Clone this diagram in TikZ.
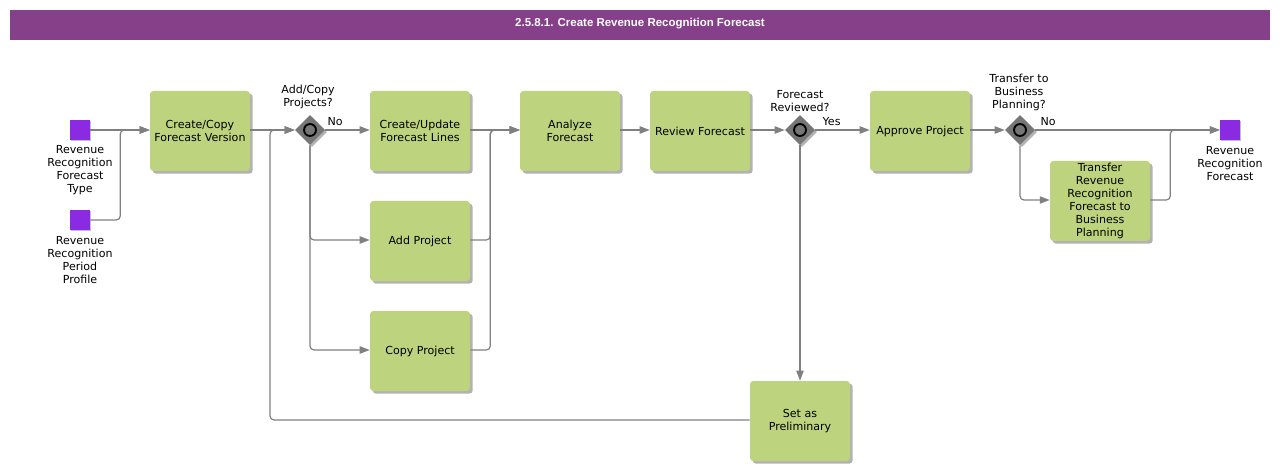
\documentclass[tikz,border=0pt]{standalone}
\usepackage{fontspec}
\setmainfont{DejaVu Sans}
\newfontfamily\titlefont{Liberation Sans}
\usetikzlibrary{arrows.meta,shapes.geometric,shadows}
\definecolor{purpbar}{RGB}{134,64,138}
\definecolor{taskgreen}{RGB}{189,211,125}
\definecolor{dataviolet}{RGB}{138,43,226}
\definecolor{linegray}{RGB}{128,128,128}
\definecolor{gwgray}{RGB}{118,118,118}
\begin{document}
\begin{tikzpicture}[x=0.75pt,y=-0.75pt,
  every node/.style={font=\fontsize{8.3}{9.75}\selectfont},
  task/.style={rectangle, rounded corners=2.5pt, fill=taskgreen, minimum width=75pt, minimum height=60pt, align=center, inner sep=1pt,
    drop shadow={shadow xshift=2pt, shadow yshift=-2pt, fill=black, opacity=0.3}},
  gw/.style={diamond, fill=gwgray, minimum width=22.5pt, minimum height=22.5pt, inner sep=0pt,
    drop shadow={shadow xshift=1.5pt, shadow yshift=-1.5pt, fill=black, opacity=0.3}},
  gwring/.style={circle, draw=black, line width=1.4pt, fill=gwgray, minimum size=9pt, inner sep=0pt},
  dataobj/.style={rectangle, fill=dataviolet, minimum size=15pt, inner sep=0pt,
    drop shadow={shadow xshift=1pt, shadow yshift=-1pt, fill=black, opacity=0.25}},
  lbl/.style={align=center, inner sep=0pt},
  conn/.style={draw=linegray, line width=0.9pt, rounded corners=3pt, -{Triangle[length=7.5pt,width=5.5pt]}}
]
\useasboundingbox (0,0) rectangle (1280,470);
% title bar
\fill[purpbar] (10,10) rectangle (1270,40);
\node[text=white, font=\titlefont\bfseries\fontsize{8.6}{10}\selectfont] (title) at (640,24) {2.5.8.1. Create Revenue Recognition Forecast};

% data objects
\node[dataobj] (d1) at (80,130) {};
\node[lbl] (d1l) at (80,170) {Revenue\\Recognition\\Forecast\\Type};
\node[dataobj] (d2) at (80,220) {};
\node[lbl] (d2l) at (80,260) {Revenue\\Recognition\\Period\\Profile};
\node[dataobj] (endd) at (1230,130) {};
\node[lbl] (endl) at (1230,163.5) {Revenue\\Recognition\\Forecast};

% tasks
\node[task] (cc) at (200,131) {Create/Copy\\Forecast Version};
\node[task] (cu) at (420,131) {Create/Update\\Forecast Lines};
\node[task] (ap) at (420,241) {Add Project};
\node[task] (cp) at (420,351) {Copy Project};
\node[task] (an) at (570,131) {Analyze\\Forecast};
\node[task] (rf) at (700,131) {Review Forecast};
\node[task] (apr) at (920,131) {Approve Project};
\node[task] (tr) at (1100,201) {Transfer\\Revenue\\Recognition\\Forecast to\\Business\\Planning};
\node[task] (sp) at (800,421) {Set as\\Preliminary};

% gateways
\node[gw] (g1) at (310,130) {};
\node[gwring] (g1r) at (g1) {};
\node[lbl] (g1l) at (308,97) {Add/Copy\\Projects?};
\node[gw] (g2) at (800,130) {};
\node[gwring] (g2r) at (g2) {};
\node[lbl] (g2l) at (800,101.5) {Forecast\\Reviewed?};
\node[gw] (g3) at (1020,130) {};
\node[gwring] (g3r) at (g3) {};
\node[lbl] (g3l) at (1019,92) {Transfer to\\Business\\Planning?};

% connectors
\draw[conn] (d1.east) -- (d1.east -| cc.west);
\draw[conn] (d2.east) -- ++(30,0) |- (d1.east -| cc.west);
\draw[conn] (cc.east |- g1) -- (g1.west);
\coordinate (loopc) at (270,420);
\draw[conn] (sp.west |- loopc) -- (loopc) |- (g1.west);
\draw[conn] (g1.east) -- node[lbl, above=3pt, pos=0.22] (no1) {No} (g1.east -| cu.west);
\draw[conn] (g1.south) |- (ap.west |- 0,240);
\draw[conn] (g1.south) |- (cp.west |- 0,350);
\draw[conn] (cu.east |- g1) -- (an.west |- g1);
\draw[conn] (ap.east |- 0,240) -- ++(20,0) |- (an.west |- g1);
\draw[conn] (cp.east |- 0,350) -- ++(20,0) |- (an.west |- g1);
\draw[conn] (an.east |- g1) -- (rf.west |- g1);
\draw[conn] (rf.east |- g2) -- (g2.west);
\draw[conn] (g2.east) -- node[lbl, above=3pt, pos=0.3] (yes2) {Yes} (apr.west |- g2);
\draw[conn] (g2.south) -- (sp.north);
\draw[conn] (apr.east |- g3) -- (g3.west);
\draw[conn] (g3.east) -- node[lbl, above=3pt, pos=0.07] (no3) {No} (endd.west);
\draw[conn] (g3.south) |- (tr.west |- 0,200);
\draw[conn] (tr.east |- 0,200) -- ++(20,0) |- (endd.west);
\end{tikzpicture}
\end{document}
